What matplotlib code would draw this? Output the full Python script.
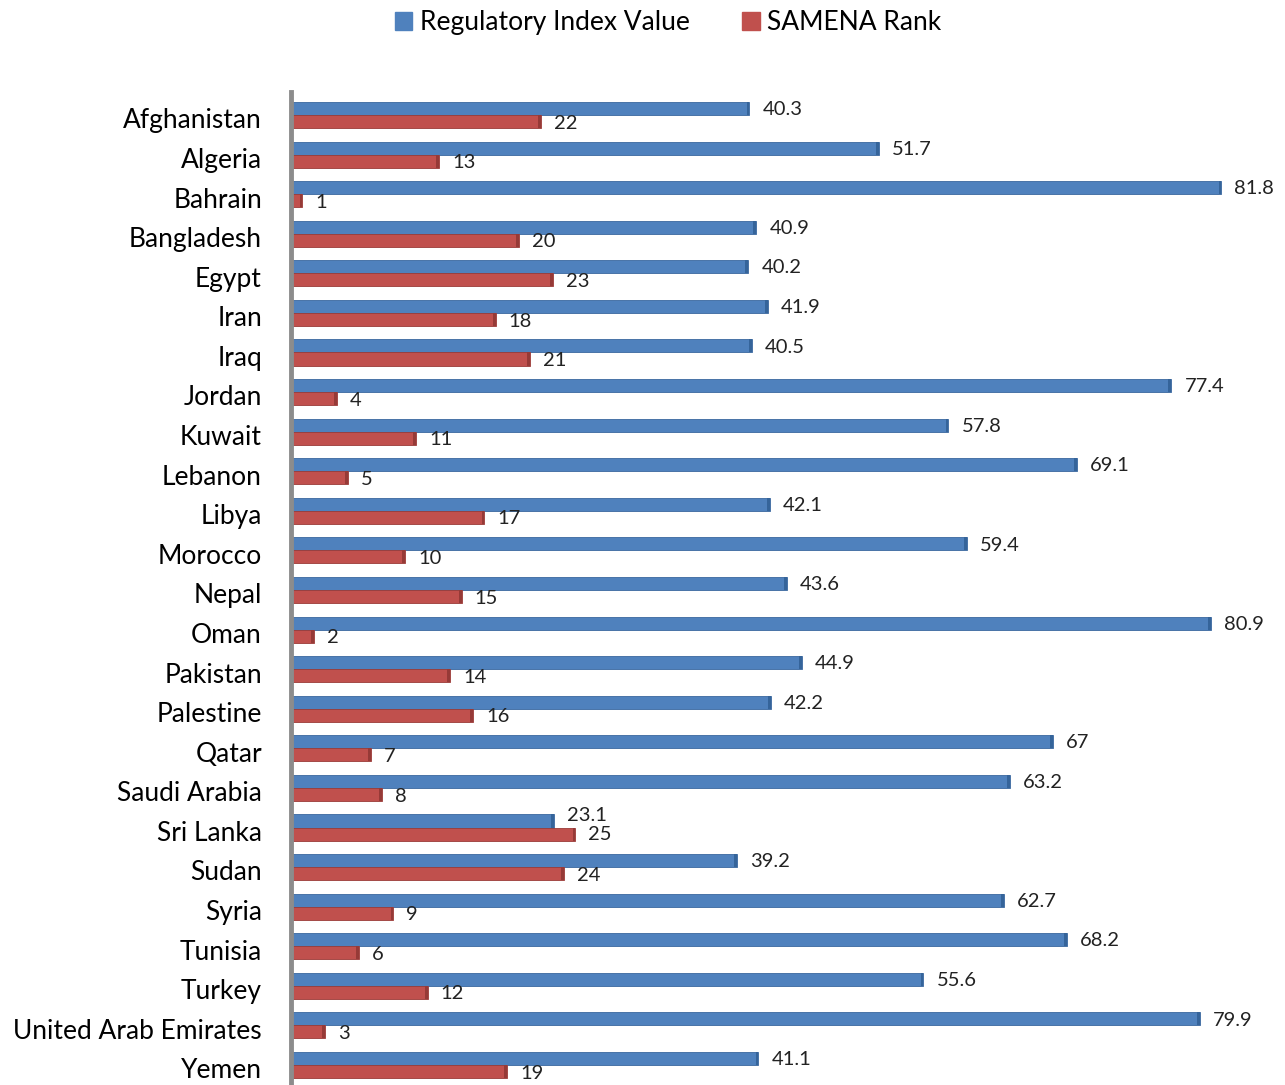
import numpy as np
from matplotlib import pyplot as plt
from matplotlib.patches import Patch

countries = ['Afghanistan', 'Algeria', 'Bahrain', 'Bangladesh', 'Egypt', 'Iran', 'Iraq',
             'Jordan', 'Kuwait', 'Lebanon', 'Libya', 'Morocco', 'Nepal', 'Oman',
             'Pakistan', 'Palestine', 'Qatar', 'Saudi Arabia', 'Sri Lanka', 'Sudan',
             'Syria', 'Tunisia', 'Turkey', 'United Arab Emirates', 'Yemen']
index_value = [40.3, 51.7, 81.8, 40.9, 40.2, 41.9, 40.5, 77.4, 57.8, 69.1, 42.1, 59.4,
               43.6, 80.9, 44.9, 42.2, 67, 63.2, 23.1, 39.2, 62.7, 68.2, 55.6, 79.9, 41.1]
samena_rank = [22, 13, 1, 20, 23, 18, 21, 4, 11, 5, 17, 10, 15, 2, 14, 16, 7, 8, 25,
               24, 9, 6, 12, 3, 19]

blue = '#4F81BD'
red = '#C0504D'
plt.rcParams['font.family'] = ['Lato', 'DejaVu Sans']

fig = plt.figure(figsize=(12.85, 10.85), dpi=100)
ax = fig.add_axes([0.2265, 0.0, 0.77, 0.915])

y = np.arange(len(countries))
h = 0.33
ax.barh(y - 0.25, index_value, height=h, color=blue, edgecolor='#3A679E', linewidth=0.6)
ax.barh(y + 0.08, samena_rank, height=h, color=red, edgecolor='#9A3B38', linewidth=0.6)
# darker end caps (3D look)
cap = 0.25
ax.barh(y - 0.25, cap, left=np.array(index_value) - cap, height=h, color='#35649A')
ax.barh(y + 0.08, cap, left=np.array(samena_rank) - cap, height=h, color='#963A37')

for yi, v, r in zip(y, index_value, samena_rank):
    # labels collide when both bars end close together -> spread them apart
    close = abs(v - r) < 5
    ax.text(v + 1.15, yi - (0.4 if close else 0.22), f'{v:g}', va='center', ha='left',
            fontsize=14.5, color='#222222')
    ax.text(r + 1.15, yi + (0.1 if close else 0.12), f'{r:g}', va='center', ha='left',
            fontsize=14.5, color='#222222')

ax.set_xlim(0, 87)
ax.set_ylim(24.42, -0.66)
ax.set_yticks(y)
ax.set_yticklabels(countries, fontsize=19)
ax.tick_params(axis='y', length=0, pad=21)
ax.set_xticks([])
for s in ['top', 'right', 'bottom']:
    ax.spines[s].set_visible(False)
ax.spines['left'].set_color('#8C8C8C')
ax.spines['left'].set_linewidth(3.5)

handles = [Patch(color=blue, label='Regulatory Index Value'),
           Patch(color=red, label='SAMENA Rank')]
fig.legend(handles=handles, loc='center', bbox_to_anchor=(0.52, 0.979), ncol=2,
           frameon=False, fontsize=19, handlelength=0.65, handleheight=0.65,
           handletextpad=0.3, columnspacing=2.0)

plt.savefig('out.png')
